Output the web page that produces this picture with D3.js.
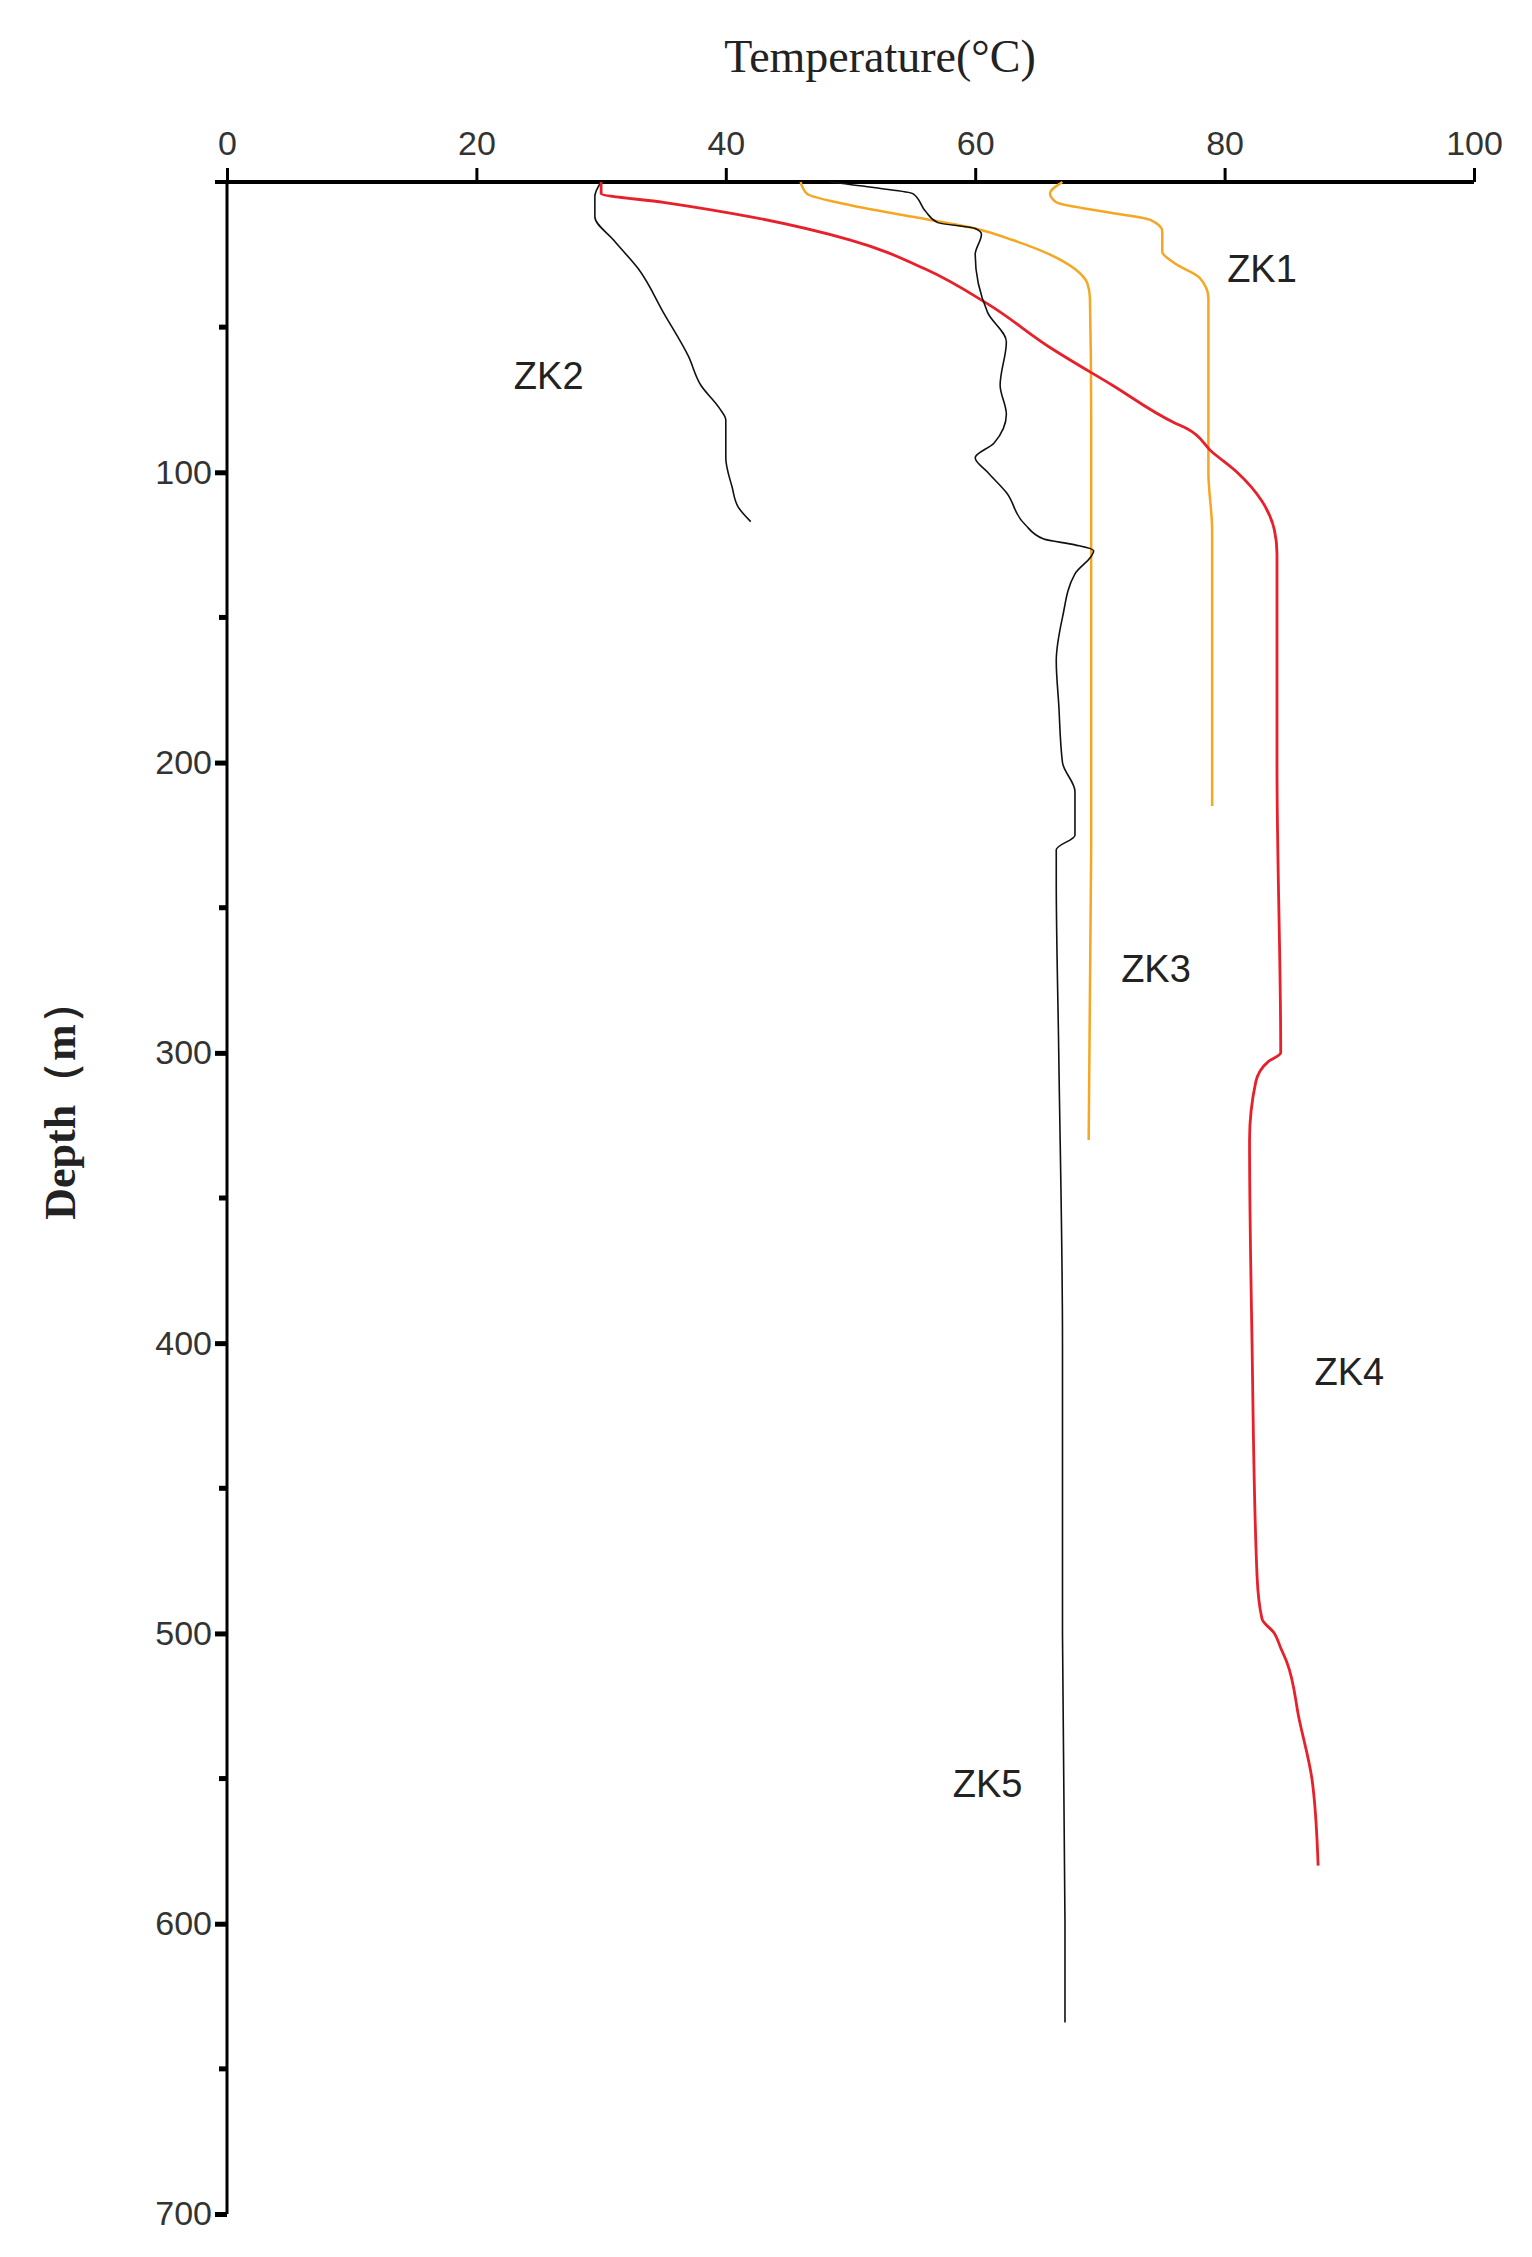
<!DOCTYPE html>
<html><head><meta charset="utf-8">
<script src="https://cdn.jsdelivr.net/npm/d3@7"></script>
<style>body{margin:0;background:#fff}</style>
</head><body>
<svg id="chart" width="1532" height="2257"></svg>
<script>
var xTicks = [0, 20, 40, 60, 80, 100];
var yTicks = [100, 200, 300, 400, 500, 600, 700];

// [temperature, depth]
var zk1 = [[67,0],[66,4],[66.5,7],[70,10],[74,13],[75,17],[75,24],[76,28],[78,33],[78.7,40],[78.7,100],[79,120],[79,200],[79,215]];
var zk2 = [[30,0],[29.5,5],[29.5,12],[31,20],[33,30],[35,45],[37,60],[38,70],[39.5,78],[40,82],[40,95],[40.5,105],[41,112],[42,117]];
var zk3 = [[46,0],[46.5,4],[50,8],[55,12],[60,16],[63,20],[66,25],[68,30],[69,35],[69.2,40],[69.3,80],[69.3,150],[69.3,230],[69.1,330]];
var zk4 = [[30,0],[30,4],[35,7],[42,12],[50,20],[56,30],[61,42],[66,57],[71,70],[76,83],[77,85],[79,93],[81,100],[83,110],[84,120],[84.2,128],[84.2,200],[84.5,300],[83.5,303],[82.5,310],[82,330],[82.2,400],[82.6,480],[83,495],[84,500],[84.5,505],[85,510],[86,530],[87,550],[87.5,580]];
var zk5 = [[48.4,0],[52,2],[55,4],[56,10],[57,14],[60,16],[60.5,18],[60,25],[61,45],[62.5,55],[62,70],[62.5,80],[61.5,90],[60,95],[61,100],[62.5,107],[64,118],[65.5,123],[68,125],[69.5,127],[68,135],[67,150],[66.5,165],[66.7,180],[67,200],[68,210],[68,225],[66.5,230],[66.5,240],[66.7,300],[67,400],[67,500],[67.2,600],[67.2,634]];

var series = [
  {name: "ZK1", data: zk1, color: "#f5a623", w: 2.5, label: [83, 31]},
  {name: "ZK2", data: zk2, color: "#111", w: 1.6, label: [25.8, 68]},
  {name: "ZK3", data: zk3, color: "#f5a623", w: 2.5, label: [74.5, 272]},
  {name: "ZK4", data: zk4, color: "#e8202a", w: 2.8, label: [90, 411]},
  {name: "ZK5", data: zk5, color: "#111", w: 1.6, label: [61, 553]}
];

var svg = d3.select("#chart");
var x = d3.scaleLinear().domain([0, 100]).range([227, 1474]);
var y = d3.scaleLinear().domain([0, 700]).range([182, 2214]);

// top axis
svg.append("g").attr("transform", "translate(0," + y(0) + ")")
  .call(d3.axisTop(x).tickValues(xTicks).tickSize(14).tickSizeOuter(0))
  .call(g => g.select(".domain").attr("stroke-width", 4).attr("d", "M" + (x(0) - 12) + ",0H" + x(100)))
  .call(g => g.selectAll(".tick line").attr("stroke-width", 3))
  .call(g => g.selectAll("text").attr("font-family", "Liberation Sans Narrow, Arial Narrow, Liberation Sans").attr("font-size", 34).attr("fill", "#333").attr("dy", "-0.3em"));

// left axis
svg.append("g").attr("transform", "translate(" + x(0) + ",0)")
  .call(d3.axisLeft(y).tickValues(yTicks).tickSize(12).tickSizeOuter(0))
  .call(g => g.select(".domain").attr("stroke-width", 3).attr("d", "M0," + y(0) + "V" + y(700)))
  .call(g => g.selectAll(".tick line").attr("stroke-width", 5))
  .call(g => g.selectAll("text").attr("font-family", "Liberation Sans Narrow, Arial Narrow, Liberation Sans").attr("font-size", 34).attr("fill", "#333"));

// minor ticks
svg.append("g").selectAll("line").data(d3.range(50, 700, 100)).join("line")
  .attr("x1", x(0) - 8).attr("x2", x(0)).attr("y1", d => y(d)).attr("y2", d => y(d))
  .attr("stroke", "#000").attr("stroke-width", 5);

svg.append("text").attr("x", 880).attr("y", 72).attr("text-anchor", "middle")
  .attr("font-family", "Liberation Serif").attr("font-size", 46).attr("fill", "#222").text("Temperature(°C)");
svg.append("text").attr("transform", "translate(75,1100) rotate(-90)").attr("text-anchor", "middle")
  .attr("font-family", "Liberation Serif").attr("font-weight", "bold").attr("font-size", 44).attr("fill", "#222").text("Depth（m）");

var line = d3.line().x(d => x(d[0])).y(d => y(d[1])).curve(d3.curveMonotoneY);
series.forEach(function (s) {
  svg.append("path").datum(s.data).attr("d", line).attr("fill", "none")
    .attr("stroke", s.color).attr("stroke-width", s.w);
  svg.append("text").attr("x", x(s.label[0])).attr("y", y(s.label[1])).attr("text-anchor", "middle")
    .attr("dominant-baseline", "middle").attr("font-family", "Liberation Sans").attr("font-size", 38)
    .attr("fill", "#222").text(s.name);
});
</script>
</body></html>
